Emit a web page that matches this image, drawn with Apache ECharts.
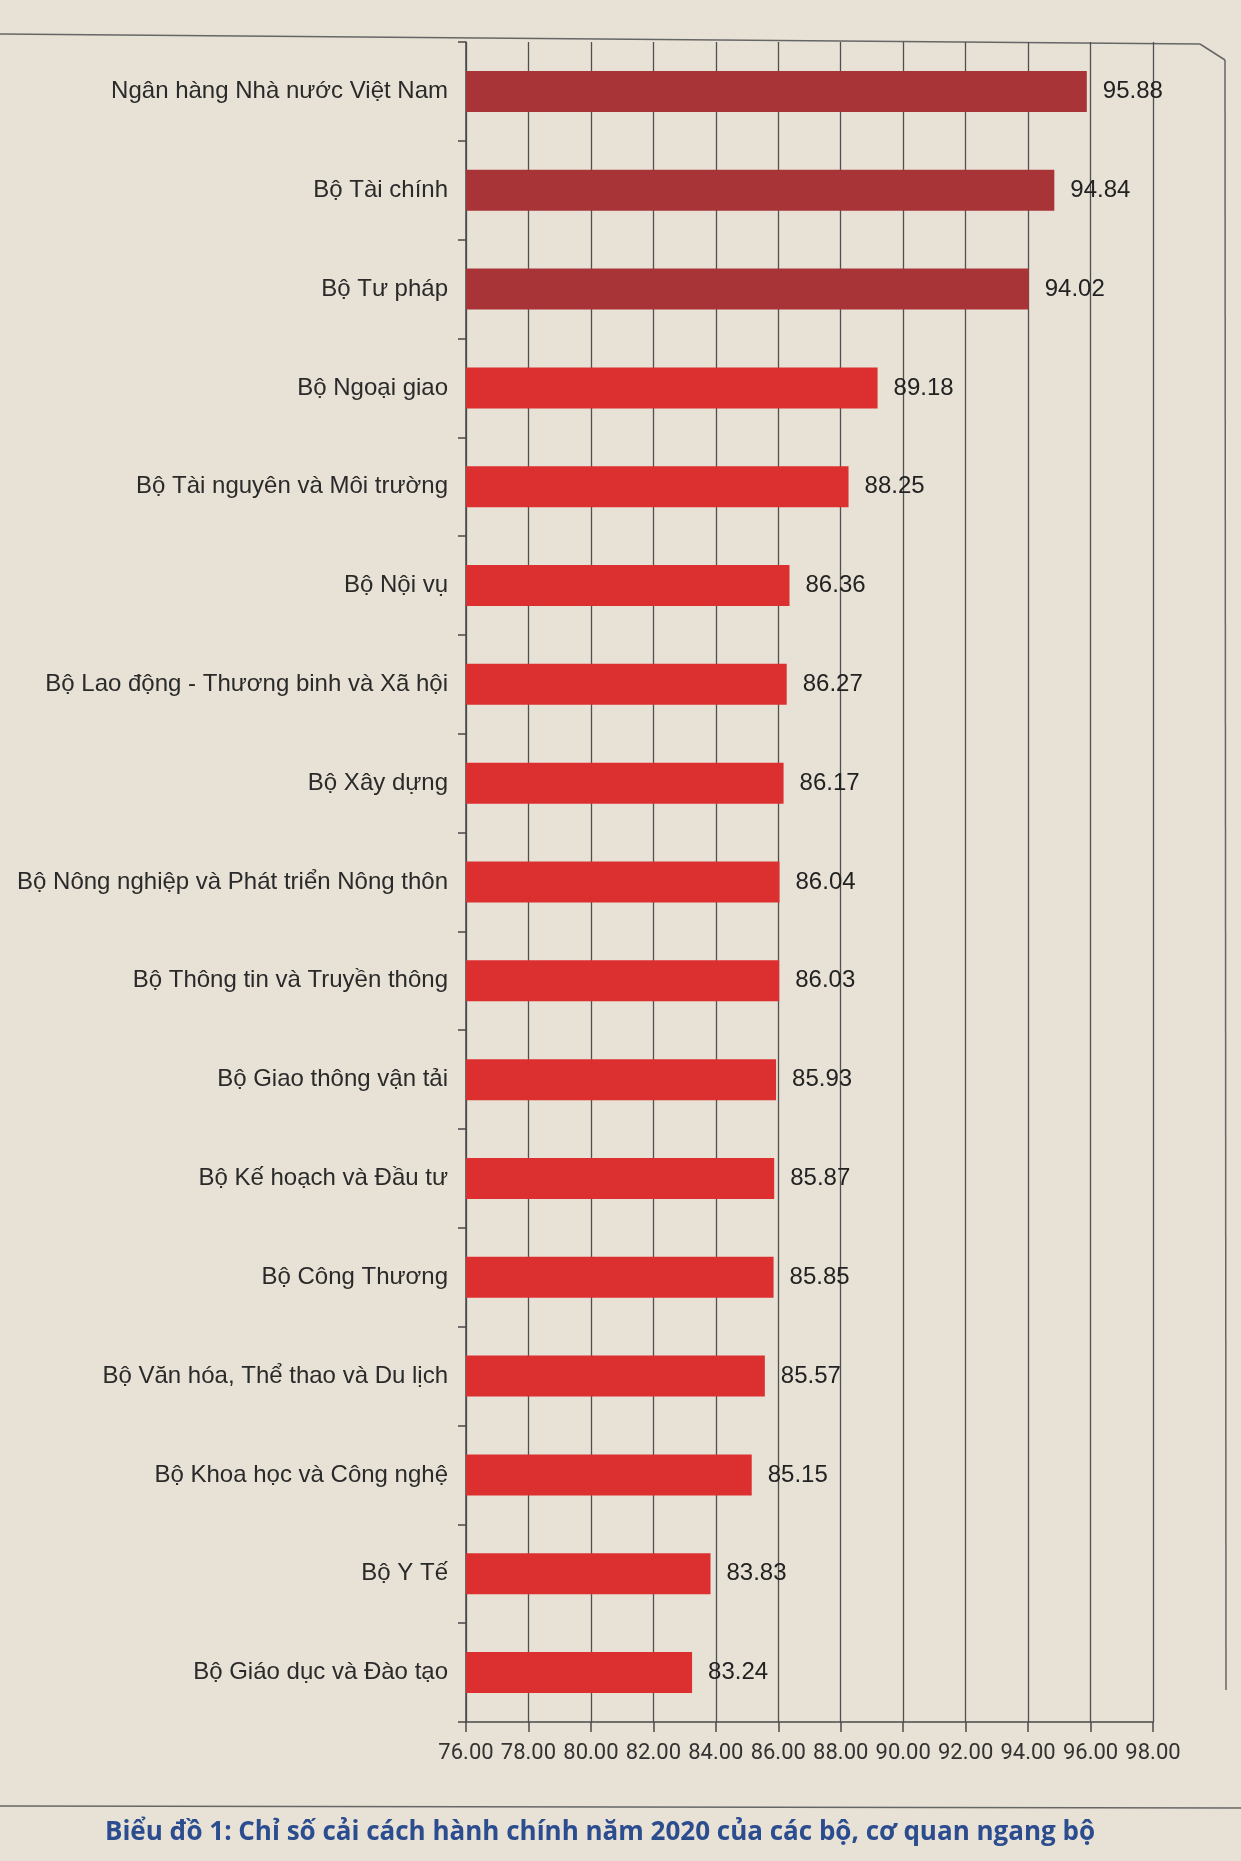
<!DOCTYPE html>
<html lang="vi">
<head>
    <meta charset="UTF-8">
    <title>Chỉ số cải cách hành chính năm 2020</title>
    <script src="https://cdn.jsdelivr.net/npm/echarts@6.0.0/dist/echarts.min.js"></script>
    <style>
        * { margin: 0; padding: 0; box-sizing: border-box; }
        body { background: #e8e2d6; }
        #chart { width: 1241px; height: 1861px; }
    </style>
</head>
<body>
<div id="chart"></div>
<script>
    // danh sách các bộ, từ trên xuống
    const ministries = [
        'Ngân hàng Nhà nước Việt Nam',
        'Bộ Tài chính',
        'Bộ Tư pháp',
        'Bộ Ngoại giao',
        'Bộ Tài nguyên và Môi trường',
        'Bộ Nội vụ',
        'Bộ Lao động - Thương binh và Xã hội',
        'Bộ Xây dựng',
        'Bộ Nông nghiệp và Phát triển Nông thôn',
        'Bộ Thông tin và Truyền thông',
        'Bộ Giao thông vận tải',
        'Bộ Kế hoạch và Đầu tư',
        'Bộ Công Thương',
        'Bộ Văn hóa, Thể thao và Du lịch',
        'Bộ Khoa học và Công nghệ',
        'Bộ Y Tế',
        'Bộ Giáo dục và Đào tạo'
    ];
    const scores = [95.88, 94.84, 94.02, 89.18, 88.25, 86.36, 86.27, 86.17, 86.04,
        86.03, 85.93, 85.87, 85.85, 85.57, 85.15, 83.83, 83.24];
    const topCount = 3; // 3 đơn vị dẫn đầu tô màu đậm hơn
    const xMin = 76, xMax = 98, xStep = 2;

    const chart = echarts.init(document.getElementById('chart'));

    const option = {
        backgroundColor: '#e8e2d6',
        animation: false,
        grid: {left: 466, right: 88, top: 42, bottom: 139},
        xAxis: {
            type: 'value',
            min: xMin,
            max: xMax,
            interval: xStep,
            axisLine: {show: true, lineStyle: {color: '#4a4a4a', width: 1.5}},
            axisTick: {show: true, length: 10, lineStyle: {color: '#4a4a4a', width: 1.5}},
            axisLabel: {
                margin: 20,
                fontFamily: 'Roboto, sans-serif',
                fontSize: 22,
                color: '#333',
                formatter: v => v.toFixed(2)
            },
            splitLine: {show: true, lineStyle: {color: '#505050', width: 1.3}}
        },
        yAxis: {
            type: 'category',
            inverse: true,
            data: ministries,
            axisLine: {show: true, lineStyle: {color: '#4a4a4a', width: 1.5}},
            axisTick: {show: true, length: 8, lineStyle: {color: '#4a4a4a', width: 1.5}},
            axisLabel: {
                margin: 18,
                fontFamily: '"Liberation Sans", Arial, sans-serif',
                fontSize: 24,
                color: '#2a2a2a'
            }
        },
        series: [{
            type: 'bar',
            data: scores,
            barWidth: 41,
            itemStyle: {
                color: p => p.dataIndex < topCount ? '#a93438' : '#dc2f2f'
            },
            label: {
                show: true,
                position: 'right',
                distance: 16,
                fontFamily: '"Liberation Sans", Arial, sans-serif',
                fontSize: 24,
                color: '#222',
                formatter: p => p.value.toFixed(2)
            }
        }],
        graphic: [
            // khung trang và tiêu đề
            {type: 'line', shape: {x1: 0, y1: 34, x2: 1200, y2: 44}, style: {stroke: '#666', lineWidth: 1.5}},
            {type: 'line', shape: {x1: 1200, y1: 44, x2: 1225, y2: 60}, style: {stroke: '#666', lineWidth: 1.5}},
            {type: 'line', shape: {x1: 1225, y1: 60, x2: 1226, y2: 1690}, style: {stroke: '#666', lineWidth: 1.5}},
            {type: 'line', shape: {x1: 0, y1: 1806, x2: 1241, y2: 1808}, style: {stroke: '#666', lineWidth: 1.5}},
            {
                type: 'text',
                x: 600,
                y: 1820,
                style: {
                    text: 'Biểu đồ 1: Chỉ số cải cách hành chính năm 2020 của các bộ, cơ quan ngang bộ',
                    font: 'bold 26px "Open Sans", "Noto Sans", sans-serif',
                    fill: '#2b4c8e',
                    textAlign: 'center'
                }
            }
        ]
    };

    chart.setOption(option);
</script>
</body>
</html>
